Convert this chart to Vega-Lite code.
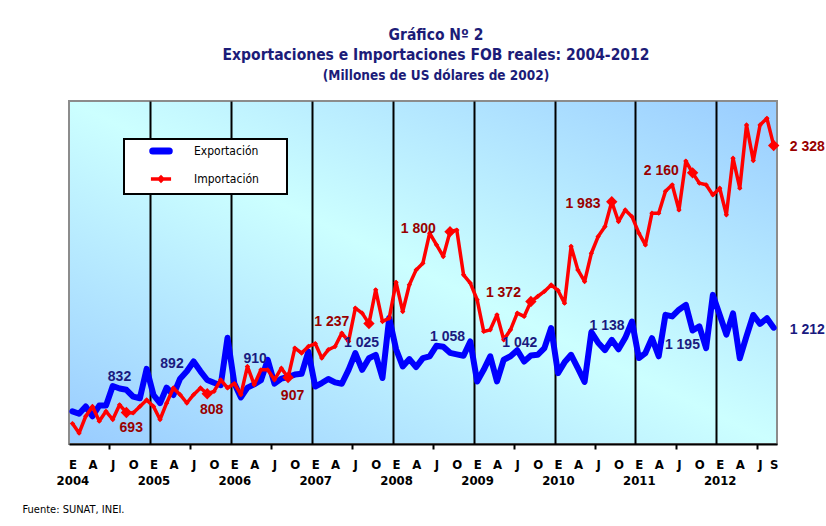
{
  "$schema": "https://vega.github.io/schema/vega-lite/v6.json",
  "width": 708,
  "height": 343,
  "autosize": {"type": "none"},
  "padding": {"left": 69, "top": 101, "right": 49, "bottom": 82},
  "background": "white",
  "title": {
    "text": ["Gráfico Nº 2", "Exportaciones e Importaciones FOB reales: 2004-2012"],
    "subtitle": "(Millones de US dólares de 2002)",
    "anchor": "middle",
    "frame": "group",
    "dx": 13,
    "offset": 19,
    "font": "DejaVu Sans Condensed, sans-serif",
    "fontSize": 15.5,
    "fontWeight": "bold",
    "color": "#1c1c78",
    "lineHeight": 20,
    "subtitleFont": "DejaVu Sans Condensed, sans-serif",
    "subtitleFontSize": 13.5,
    "subtitleFontWeight": "bold",
    "subtitleColor": "#1c1c78",
    "subtitlePadding": 5
  },
  "datasets": {
    "mensual": [
      {"fecha": "2004-01", "Exportación": 700, "Importación": 625},
      {"fecha": "2004-02", "Exportación": 685, "Importación": 567},
      {"fecha": "2004-03", "Exportación": 730, "Importación": 670},
      {"fecha": "2004-04", "Exportación": 670, "Importación": 730},
      {"fecha": "2004-05", "Exportación": 735, "Importación": 640},
      {"fecha": "2004-06", "Exportación": 735, "Importación": 700},
      {"fecha": "2004-07", "Exportación": 855, "Importación": 650},
      {"fecha": "2004-08", "Exportación": 840, "Importación": 740},
      {"fecha": "2004-09", "Exportación": 832, "Importación": 693},
      {"fecha": "2004-10", "Exportación": 790, "Importación": 690},
      {"fecha": "2004-11", "Exportación": 780, "Importación": 730},
      {"fecha": "2004-12", "Exportación": 960, "Importación": 770},
      {"fecha": "2005-01", "Exportación": 800, "Importación": 730},
      {"fecha": "2005-02", "Exportación": 750, "Importación": 650},
      {"fecha": "2005-03", "Exportación": 845, "Importación": 750},
      {"fecha": "2005-04", "Exportación": 800, "Importación": 843},
      {"fecha": "2005-05", "Exportación": 900, "Importación": 802},
      {"fecha": "2005-06", "Exportación": 945, "Importación": 751},
      {"fecha": "2005-07", "Exportación": 1005, "Importación": 802},
      {"fecha": "2005-08", "Exportación": 945, "Importación": 843},
      {"fecha": "2005-09", "Exportación": 892, "Importación": 808},
      {"fecha": "2005-10", "Exportación": 875, "Importación": 822},
      {"fecha": "2005-11", "Exportación": 860, "Importación": 893},
      {"fecha": "2005-12", "Exportación": 1150, "Importación": 843},
      {"fecha": "2006-01", "Exportación": 870, "Importación": 870},
      {"fecha": "2006-02", "Exportación": 785, "Importación": 802},
      {"fecha": "2006-03", "Exportación": 845, "Importación": 975},
      {"fecha": "2006-04", "Exportación": 865, "Importación": 863},
      {"fecha": "2006-05", "Exportación": 890, "Importación": 954},
      {"fecha": "2006-06", "Exportación": 1015, "Importación": 954},
      {"fecha": "2006-07", "Exportación": 870, "Importación": 893},
      {"fecha": "2006-08", "Exportación": 900, "Importación": 964},
      {"fecha": "2006-09", "Exportación": 910, "Importación": 907},
      {"fecha": "2006-10", "Exportación": 925, "Importación": 1087},
      {"fecha": "2006-11", "Exportación": 930, "Importación": 1057},
      {"fecha": "2006-12", "Exportación": 1065, "Importación": 1097},
      {"fecha": "2007-01", "Exportación": 852, "Importación": 1115},
      {"fecha": "2007-02", "Exportación": 873, "Importación": 1026},
      {"fecha": "2007-03", "Exportación": 898, "Importación": 1077},
      {"fecha": "2007-04", "Exportación": 877, "Importación": 1097},
      {"fecha": "2007-05", "Exportación": 869, "Importación": 1179},
      {"fecha": "2007-06", "Exportación": 954, "Importación": 1128},
      {"fecha": "2007-07", "Exportación": 1057, "Importación": 1332},
      {"fecha": "2007-08", "Exportación": 954, "Importación": 1301},
      {"fecha": "2007-09", "Exportación": 1025, "Importación": 1237},
      {"fecha": "2007-10", "Exportación": 1046, "Importación": 1444},
      {"fecha": "2007-11", "Exportación": 904, "Importación": 1250},
      {"fecha": "2007-12", "Exportación": 1271, "Importación": 1271},
      {"fecha": "2008-01", "Exportación": 1080, "Importación": 1490},
      {"fecha": "2008-02", "Exportación": 975, "Importación": 1311},
      {"fecha": "2008-03", "Exportación": 1020, "Importación": 1475},
      {"fecha": "2008-04", "Exportación": 971, "Importación": 1566},
      {"fecha": "2008-05", "Exportación": 1026, "Importación": 1607},
      {"fecha": "2008-06", "Exportación": 1037, "Importación": 1791},
      {"fecha": "2008-07", "Exportación": 1101, "Importación": 1720},
      {"fecha": "2008-08", "Exportación": 1095, "Importación": 1648},
      {"fecha": "2008-09", "Exportación": 1058, "Importación": 1800},
      {"fecha": "2008-10", "Exportación": 1049, "Importación": 1810},
      {"fecha": "2008-11", "Exportación": 1040, "Importación": 1536},
      {"fecha": "2008-12", "Exportación": 1128, "Importación": 1485},
      {"fecha": "2009-01", "Exportación": 883, "Importación": 1383},
      {"fecha": "2009-02", "Exportación": 954, "Importación": 1189},
      {"fecha": "2009-03", "Exportación": 1037, "Importación": 1199},
      {"fecha": "2009-04", "Exportación": 883, "Importación": 1291},
      {"fecha": "2009-05", "Exportación": 1016, "Importación": 1138},
      {"fecha": "2009-06", "Exportación": 1037, "Importación": 1199},
      {"fecha": "2009-07", "Exportación": 1074, "Importación": 1301},
      {"fecha": "2009-08", "Exportación": 1005, "Importación": 1281},
      {"fecha": "2009-09", "Exportación": 1042, "Importación": 1372},
      {"fecha": "2009-10", "Exportación": 1046, "Importación": 1403},
      {"fecha": "2009-11", "Exportación": 1087, "Importación": 1434},
      {"fecha": "2009-12", "Exportación": 1210, "Importación": 1474},
      {"fecha": "2010-01", "Exportación": 934, "Importación": 1440},
      {"fecha": "2010-02", "Exportación": 1000, "Importación": 1362},
      {"fecha": "2010-03", "Exportación": 1046, "Importación": 1710},
      {"fecha": "2010-04", "Exportación": 965, "Importación": 1566},
      {"fecha": "2010-05", "Exportación": 880, "Importación": 1495},
      {"fecha": "2010-06", "Exportación": 1185, "Importación": 1668},
      {"fecha": "2010-07", "Exportación": 1120, "Importación": 1770},
      {"fecha": "2010-08", "Exportación": 1075, "Importación": 1831},
      {"fecha": "2010-09", "Exportación": 1138, "Importación": 1983},
      {"fecha": "2010-10", "Exportación": 1080, "Importación": 1862},
      {"fecha": "2010-11", "Exportación": 1150, "Importación": 1933},
      {"fecha": "2010-12", "Exportación": 1250, "Importación": 1892},
      {"fecha": "2011-01", "Exportación": 1026, "Importación": 1791},
      {"fecha": "2011-02", "Exportación": 1057, "Importación": 1719},
      {"fecha": "2011-03", "Exportación": 1148, "Importación": 1913},
      {"fecha": "2011-04", "Exportación": 1037, "Importación": 1913},
      {"fecha": "2011-05", "Exportación": 1291, "Importación": 2047},
      {"fecha": "2011-06", "Exportación": 1281, "Importación": 2087},
      {"fecha": "2011-07", "Exportación": 1322, "Importación": 1933},
      {"fecha": "2011-08", "Exportación": 1352, "Importación": 2232},
      {"fecha": "2011-09", "Exportación": 1195, "Importación": 2160},
      {"fecha": "2011-10", "Exportación": 1220, "Importación": 2097},
      {"fecha": "2011-11", "Exportación": 1087, "Importación": 2087},
      {"fecha": "2011-12", "Exportación": 1413, "Importación": 2025},
      {"fecha": "2012-01", "Exportación": 1290, "Importación": 2066},
      {"fecha": "2012-02", "Exportación": 1170, "Importación": 1903},
      {"fecha": "2012-03", "Exportación": 1300, "Importación": 2250},
      {"fecha": "2012-04", "Exportación": 1025, "Importación": 2066},
      {"fecha": "2012-05", "Exportación": 1160, "Importación": 2453},
      {"fecha": "2012-06", "Exportación": 1290, "Importación": 2235},
      {"fecha": "2012-07", "Exportación": 1235, "Importación": 2453},
      {"fecha": "2012-08", "Exportación": 1270, "Importación": 2494},
      {"fecha": "2012-09", "Exportación": 1212, "Importación": 2328}
    ],
    "etiquetas": [
      {"serie": "Importación", "texto": "693", "fecha": "2004-10-08", "nivel": 598},
      {"serie": "Importación", "texto": "808", "fecha": "2005-10-06", "nivel": 710},
      {"serie": "Importación", "texto": "907", "fecha": "2006-10-06", "nivel": 795},
      {"serie": "Importación", "texto": "1 237", "fecha": "2007-04-01", "nivel": 1250},
      {"serie": "Importación", "texto": "1 800", "fecha": "2008-04-26", "nivel": 1815},
      {"serie": "Importación", "texto": "1 372", "fecha": "2009-05-15", "nivel": 1427},
      {"serie": "Importación", "texto": "1 983", "fecha": "2010-05-09", "nivel": 1970},
      {"serie": "Importación", "texto": "2 160", "fecha": "2011-04-28", "nivel": 2174},
      {"serie": "Importación", "texto": "2 328", "fecha": "2013-02-15", "nivel": 2320},
      {"serie": "Exportación", "texto": "832", "fecha": "2004-08-16", "nivel": 910},
      {"serie": "Exportación", "texto": "892", "fecha": "2005-04-10", "nivel": 991},
      {"serie": "Exportación", "texto": "910", "fecha": "2006-04-20", "nivel": 1020},
      {"serie": "Exportación", "texto": "1 025", "fecha": "2007-08-14", "nivel": 1121},
      {"serie": "Exportación", "texto": "1 058", "fecha": "2008-09-05", "nivel": 1155},
      {"serie": "Exportación", "texto": "1 042", "fecha": "2009-07-28", "nivel": 1121},
      {"serie": "Exportación", "texto": "1 138", "fecha": "2010-08-26", "nivel": 1224},
      {"serie": "Exportación", "texto": "1 195", "fecha": "2011-08-01", "nivel": 1107},
      {"serie": "Exportación", "texto": "1 212", "fecha": "2013-02-15", "nivel": 1199}
    ]
  },
  "layer": [
    {
      "data": {"name": "mensual"},
      "transform": [
        {"fold": ["Exportación", "Importación"], "as": ["serie", "valor"]},
        {"filter": "datum.serie == 'Exportación'"}
      ],
      "mark": {"type": "line", "strokeWidth": 6, "strokeJoin": "round", "strokeCap": "round"},
      "encoding": {
        "x": {
          "field": "fecha", "timeUnit": "utcyearmonth", "type": "temporal", "bandPosition": 0.5,
          "scale": {"type": "utc", "domain": [{"year": 2004, "month": 1, "date": 1, "utc": true}, {"year": 2012, "month": 10, "date": 1, "utc": true}]},
          "axis": {
            "orient": "bottom", "title": null,
            "tickCount": {"interval": "month", "step": 1},
            "labelExpr": "utcyear(datum.value) == 2012 && utcmonth(datum.value) == 8 ? 'S' : (utcyear(datum.value) == 2012 && utcmonth(datum.value) > 8 ? '' : ['E','','','A','','','J','','','O','',''][utcmonth(datum.value)])",
            "labelOffset": 3.4, "labelPadding": 9, "labelFlush": false, "labelOverlap": false, "labelAngle": 0,
            "labelFont": "DejaVu Sans Condensed, sans-serif", "labelFontSize": 13, "labelFontWeight": "bold", "labelColor": "#000000",
            "ticks": true, "tickSize": 5, "tickColor": "#000000", "tickWidth": 2,
            "tickOpacity": {"condition": {"test": "utcmonth(datum.value) == 6", "value": 1}, "value": 0},
            "grid": true, "gridColor": "#000000", "gridWidth": 2,
            "gridOpacity": {"condition": {"test": "utcmonth(datum.value) == 0 && utcyear(datum.value) > 2004", "value": 1}, "value": 0},
            "domain": true, "domainColor": "#000000", "domainWidth": 2
          }
        },
        "y": {
          "field": "valor", "type": "quantitative",
          "scale": {"domain": [500, 2600], "nice": false, "zero": false},
          "axis": {
            "title": null, "values": [500, 800, 1100, 1400, 1700, 2000, 2300, 2600], "grid": false,
            "domainColor": "#000000", "domainWidth": 2, "tickColor": "#000000", "tickSize": 6, "tickWidth": 2,
            "labelPadding": 6, "labelFont": "DejaVu Sans Condensed, sans-serif", "labelFontSize": 13, "labelFontWeight": "bold", "labelColor": "#000000"
          }
        },
        "color": {
          "field": "serie", "type": "nominal",
          "scale": {"domain": ["Exportación", "Importación"], "range": ["#0000ff", "#ff0000"]},
          "legend": {
            "title": "MM", "titleOrient": "right", "titleColor": "rgba(0,0,0,0)", "titlePadding": 0, "titleFontSize": 12,
            "orient": "none", "legendX": 55, "legendY": 38, "direction": "vertical",
            "fillColor": "#ffffff", "strokeColor": "#000000", "padding": 6,
            "symbolType": "M-1.5,0H1.5", "symbolSize": 169, "symbolStrokeWidth": 3, "symbolOffset": 25,
            "labelFont": "DejaVu Sans Condensed, sans-serif", "labelFontSize": 12, "labelColor": "#000000", "labelOffset": 27,
            "rowPadding": 5,
            "encode": {"symbols": {"update": {
              "strokeWidth": {"signal": "datum.value == 'Exportación' ? 7 : 3.5"},
              "strokeCap": {"signal": "datum.value == 'Exportación' ? 'round' : 'butt'"},
              "shape": {"signal": "datum.value == 'Exportación' ? 'M-1.27,0H1.27' : 'M-1.55,0H1.55M0,-0.26L0.26,0L0,0.26L-0.26,0Z'"},
              "fill": {"signal": "datum.value == 'Exportación' ? 'transparent' : '#ff0000'"}
            }}}
          }
        }
      }
    },
    {
      "data": {"name": "mensual"},
      "transform": [
        {"fold": ["Exportación", "Importación"], "as": ["serie", "valor"]},
        {"filter": "datum.serie == 'Importación'"}
      ],
      "mark": {"type": "line", "strokeWidth": 3.5, "strokeJoin": "round", "point": {"shape": "diamond", "size": 28, "filled": true, "color": "#ff0000", "opacity": 1}},
      "encoding": {
        "x": {"field": "fecha", "timeUnit": "utcyearmonth", "type": "temporal", "bandPosition": 0.5, "axis": null},
        "y": {"field": "valor", "type": "quantitative", "axis": null},
        "color": {"field": "serie", "type": "nominal", "legend": null}
      }
    },
    {
      "data": {"name": "mensual"},
      "transform": [
        {"fold": ["Exportación", "Importación"], "as": ["serie", "valor"]},
        {"filter": "datum.serie == 'Importación' && utcmonth(toDate(datum.fecha)) == 8"}
      ],
      "mark": {"type": "point", "shape": "diamond", "size": 130, "filled": true, "color": "#ff0000", "opacity": 1},
      "encoding": {
        "x": {"field": "fecha", "timeUnit": "utcyearmonth", "type": "temporal", "bandPosition": 0.5, "axis": null},
        "y": {"field": "valor", "type": "quantitative", "axis": null}
      }
    },
    {
      "data": {"name": "etiquetas"},
      "mark": {"type": "text", "font": "Liberation Sans, Arial, sans-serif", "fontSize": 14, "fontWeight": "bold", "align": "center", "baseline": "middle"},
      "encoding": {
        "x": {
          "field": "fecha", "type": "temporal",
          "axis": {
            "orient": "bottom", "tickCount": {"interval": "year", "step": 1},
            "labelExpr": "'' + utcyear(datum.value)",
            "ticks": false, "tickSize": 0, "domain": false, "grid": false,
            "labelOffset": 3.4, "labelPadding": 30, "labelFlush": false, "labelOverlap": false, "labelAngle": 0,
            "labelFont": "DejaVu Sans Condensed, sans-serif", "labelFontSize": 13, "labelFontWeight": "bold", "labelColor": "#000000",
            "title": "Fuente: SUNAT, INEI.", "titleX": -47, "titleY": 68, "titleAlign": "left", "titleBaseline": "alphabetic", "titleAngle": 0,
            "titleFont": "DejaVu Sans Condensed, sans-serif", "titleFontSize": 11, "titleFontWeight": "normal", "titleColor": "#000000"
          }
        },
        "y": {"field": "nivel", "type": "quantitative", "axis": null},
        "text": {"field": "texto"},
        "color": {"condition": {"test": "datum.serie == 'Exportación'", "value": "#1a1a80"}, "value": "#990000"}
      }
    }
  ],
  "resolve": {"axis": {"x": "independent"}},
  "config": {
    "font": "DejaVu Sans Condensed, sans-serif",
    "view": {
      "stroke": "#8c8c8c",
      "strokeWidth": 2,
      "fill": {"gradient": "linear", "x1": 0, "y1": 1, "x2": 1, "y2": 0, "stops": [{"offset": 0, "color": "#99ccff"}, {"offset": 0.5, "color": "#ccffff"}, {"offset": 1, "color": "#99ccff"}]}
    },
    "legend": {"strokeWidth": 2}
  }
}
